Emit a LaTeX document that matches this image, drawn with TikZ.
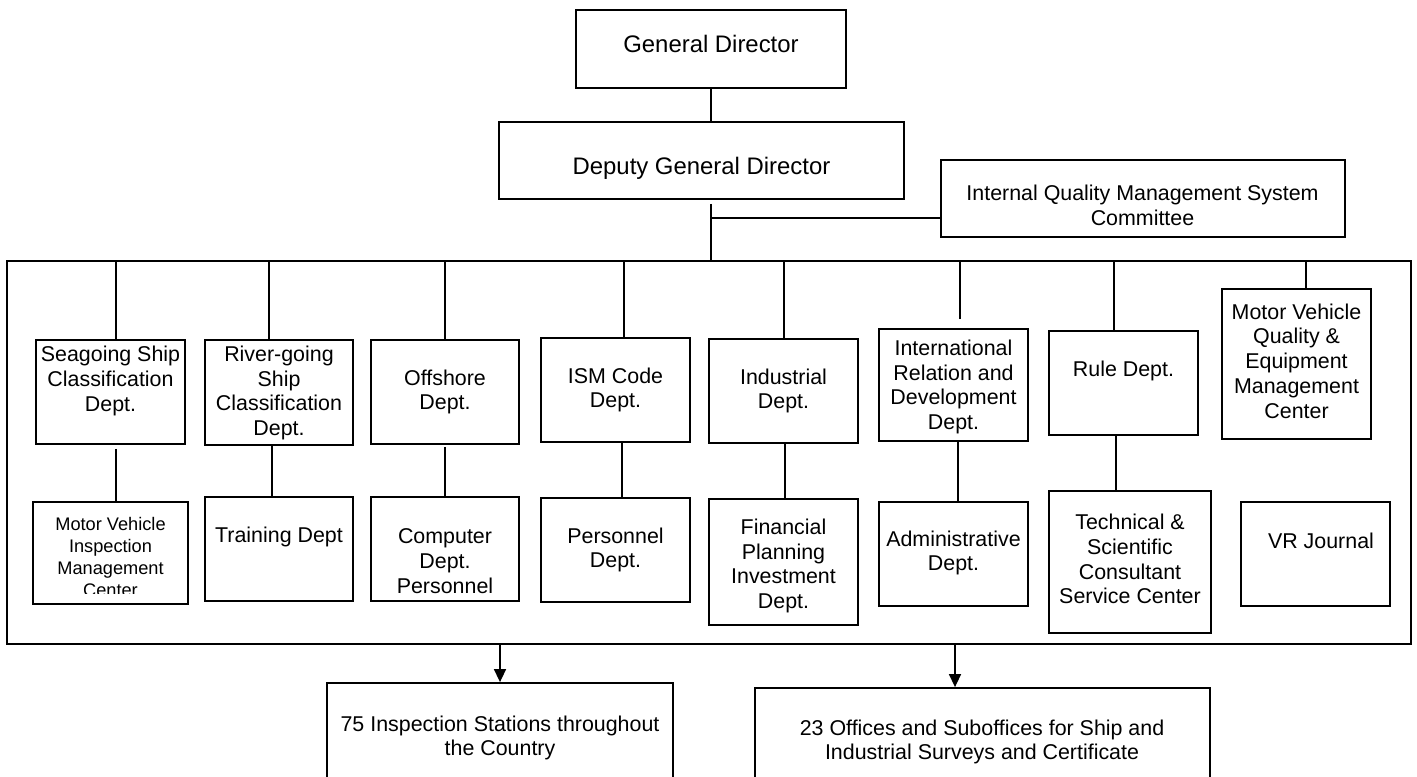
\documentclass[tikz,border=0pt]{standalone}
\usepackage{fontspec}
\setmainfont{Liberation Sans}
\usetikzlibrary{arrows.meta}
\tikzset{
  bx/.style 2 args={draw, line width=0.9pt, inner sep=0pt, minimum width={#1*0.5pt}, minimum height={#2*0.5pt}},
  conn/.style={line width=0.75pt},
  arr/.style={line width=0.75pt, -{Triangle[length=6.5pt,width=6pt]}},
  txt/.style={align=center, inner sep=0pt, font=\fontsize{10.7pt}{12.35pt}\selectfont},
  txtbig/.style={align=center, inner sep=0pt, font=\fontsize{11.95pt}{14pt}\selectfont},
  txtsmall/.style={align=center, inner sep=0pt, font=\fontsize{9.1pt}{11pt}\selectfont}
}
\begin{document}
\begin{tikzpicture}[x=0.5pt,y=-0.5pt]
\clip (0,0) rectangle (1417,776);
\fill[white] (0,0) rectangle (1417,776);

% top
\node[bx={270}{78}] (gd) at (711,49) {};
\node[txtbig] (gdt) at (711,44) {General Director};
\node[bx={405}{77}] (dgd) at (701.5,160.5) {};
\node[txtbig] (dgdt) at (701.5,168) {Deputy General Director};
\node[bx={404}{77}] (iqm) at (1143,198.5) {};
\node[txt] (iqmt) at (1142.5,205) {Internal Quality Management System\\Committee};

% outer frame
\node[bx={1404}{383}] (outer) at (709,452.5) {};

% row 1
\node[bx={149}{104}] (sea) at (110.5,392) {};
\node[txt] (seat) at (110.5,381) {Seagoing Ship\\Classification\\Dept.};
\node[bx={148}{105}] (riv) at (279,392.5) {};
\node[txt] (rivt) at (279,393) {River-going\\Ship\\Classification\\Dept.};
\node[bx={148}{104}] (off) at (445,392) {};
\node[txt] (offt) at (445,392) {Offshore\\Dept.};
\node[bx={149}{104}] (ism) at (615.5,390) {};
\node[txt] (ismt) at (615.5,390) {ISM Code\\Dept.};
\node[bx={149}{104}] (ind) at (783.5,391) {};
\node[txt] (indt) at (783.5,391) {Industrial\\Dept.};
\node[bx={149}{112}] (intl) at (953.5,385) {};
\node[txt] (intlt) at (953.5,387) {International\\Relation and\\Development\\Dept.};
\node[bx={149}{104}] (rule) at (1123.5,383) {};
\node[txt] (rulet) at (1123.5,371) {Rule Dept.};
\node[bx={149}{150}] (mvq) at (1296.5,364) {};
\node[txt] (mvqt) at (1296.5,361) {Motor Vehicle\\Quality \&\\Equipment\\Management\\Center};

% row 2
\node[bx={155}{102}] (mvi) at (110.5,553) {};
\begin{scope}
\clip (33,502) rectangle (188,593);
\node[txtsmall] (mvit) at (110.5,557) {Motor Vehicle\\Inspection\\Management\\Center};
\end{scope}
\node[bx={148}{104}] (trn) at (279,549) {};
\node[txt] (trnt) at (279,537) {Training Dept};
\node[bx={148}{104}] (cmp) at (445,549) {};
\node[txt] (cmpt) at (445,561) {Computer\\Dept.\\Personnel};
\node[bx={149}{104}] (per) at (615.5,550) {};
\node[txt] (pert) at (615.5,550) {Personnel\\Dept.};
\node[bx={149}{126}] (fin) at (783.5,562) {};
\node[txt] (fint) at (783.5,566) {Financial\\Planning\\Investment\\Dept.};
\node[bx={149}{104}] (adm) at (953.5,554) {};
\node[txt] (admt) at (953.5,553) {Administrative\\Dept.};
\node[bx={162}{142}] (tec) at (1130,562) {};
\node[txt] (tect) at (1130,559) {Technical \&\\Scientific\\Consultant\\Service Center};
\node[bx={149}{104}] (vrj) at (1315.5,554) {};
\node[txt] (vrjt) at (1321,541) {VR Journal};

% bottom
\node[bx={346}{137}] (b1) at (500,751.5) {};
\node[txt] (b1t) at (500,738) {75 Inspection Stations throughout\\the Country};
\node[bx={455}{132}] (b2) at (982.5,754) {};
\node[txt] (b2t) at (982,742) {23 Offices and Suboffices for Ship and\\Industrial Surveys and Certificate};

% connectors top
\coordinate (hub) at (711,261);
\coordinate (iqmin) at ([yshift=-9.75pt]iqm.west);
\draw[conn] (gd.south) -- (gd.south |- dgd.north);
\draw[conn] ([yshift=-2pt]hub |- dgd.south) -- (hub);
\draw[conn] (hub |- iqmin) -- (iqmin);

% frame to row 1
\draw[conn] ([xshift=2.75pt]sea.north) -- ([xshift=2.75pt]sea.north |- outer.north);
\draw[conn] ([xshift=-5pt]riv.north) -- ([xshift=-5pt]riv.north |- outer.north);
\draw[conn] (off.north) -- (off.north |- outer.north);
\draw[conn] ([xshift=4.25pt]ism.north) -- ([xshift=4.25pt]ism.north |- outer.north);
\draw[conn] ([xshift=0.25pt]ind.north) -- ([xshift=0.25pt]ind.north |- outer.north);
\draw[conn] ([xshift=3.25pt,yshift=4.5pt]intl.north) -- ([xshift=3.25pt]intl.north |- outer.north);
\draw[conn] ([xshift=-4.75pt]rule.north) -- ([xshift=-4.75pt]rule.north |- outer.north);
\draw[conn] ([xshift=4.75pt]mvq.north) -- ([xshift=4.75pt]mvq.north |- outer.north);

% row 1 to row 2
\draw[conn] ([xshift=2.75pt,yshift=-2pt]sea.south) -- ([xshift=2.75pt]sea.south |- mvi.north);
\draw[conn] ([xshift=-3.5pt]riv.south) -- ([xshift=-3.5pt]riv.south |- trn.north);
\draw[conn] ([yshift=-1pt]off.south) -- (off.south |- cmp.north);
\draw[conn] ([xshift=3.25pt]ism.south) -- ([xshift=3.25pt]ism.south |- per.north);
\draw[conn] ([xshift=0.75pt]ind.south) -- ([xshift=0.75pt]ind.south |- fin.north);
\draw[conn] ([xshift=2.25pt]intl.south) -- ([xshift=2.25pt]intl.south |- adm.north);
\draw[conn] ([xshift=-3.75pt]rule.south) -- ([xshift=-3.75pt]rule.south |- tec.north);

% frame to bottom
\draw[arr] (b1.north |- outer.south) -- (b1.north);
\draw[arr] ([xshift=-13.75pt]b2.north |- outer.south) -- ([xshift=-13.75pt]b2.north);
\end{tikzpicture}
\end{document}
